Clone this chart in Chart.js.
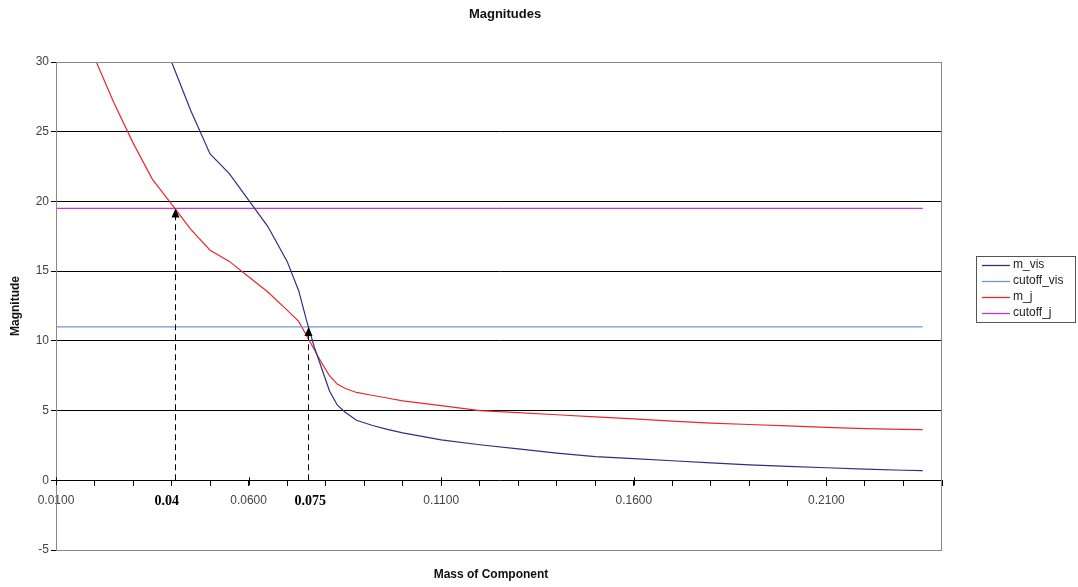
<!DOCTYPE html>
<html>
<head>
<meta charset="utf-8">
<script src="https://cdn.jsdelivr.net/npm/chart.js@4.4.0/dist/chart.umd.min.js"></script>
<style>
  body { margin: 0; background: #fff; }
  #wrap { width: 1078px; height: 587px; }
</style>
</head>
<body>
<div id="wrap"><canvas id="chart" width="1078" height="587"></canvas></div>
<script>
// data
const masses = [0.010, 0.015, 0.020, 0.025, 0.030, 0.035, 0.040, 0.045, 0.050, 0.055, 0.060, 0.065,
  0.070, 0.073, 0.075, 0.077, 0.079, 0.081, 0.083, 0.085, 0.088, 0.092, 0.096, 0.100, 0.110,
  0.120, 0.130, 0.140, 0.150, 0.160, 0.170, 0.180, 0.190, 0.200, 0.210, 0.220, 0.230, 0.235];
const mVis = [50, 47, 43, 40, 36.8, 33.4, 30, 26.5, 23.4, 22.0, 20.1, 18.2,
  15.7, 13.6, 11.5, 9.6, 8.0, 6.4, 5.4, 4.9, 4.3, 3.95, 3.65, 3.4, 2.9,
  2.55, 2.25, 1.95, 1.7, 1.55, 1.4, 1.25, 1.1, 1.0, 0.9, 0.8, 0.72, 0.69];
const mJ = [37, 33.5, 30.3, 27.1, 24.2, 21.6, 19.8, 18.0, 16.5, 15.7, 14.6, 13.5,
  12.2, 11.4, 10.4, 9.4, 8.4, 7.5, 6.9, 6.6, 6.3, 6.1, 5.9, 5.7, 5.35,
  5.0, 4.85, 4.7, 4.55, 4.4, 4.25, 4.1, 4.0, 3.9, 3.8, 3.7, 3.65, 3.64];
const cutoffVis = 11;
const cutoffJ = 19.5;
const seriesNames = ["m_vis", "cutoff_vis", "m_j", "cutoff_j"];
const seriesColors = ["#2f2f80", "#6f96d8", "#e8282f", "#cc33cc"];
const yTicks = [-5, 0, 5, 10, 15, 20, 25, 30];
const xLabelTicks = [0.01, 0.06, 0.11, 0.16, 0.21];
// the two dashed pointers
const markerMass = [0.0408, 0.0755];
const markerLevel = [19.5, 11];
const markerText = ["0.04", "0.075"];

const FONT = "'Liberation Sans', Arial, sans-serif";

const pts = (ys) => masses.map((m, i) => ({ x: m, y: ys[i] }));
const flat = (v) => [{ x: masses[0], y: v }, { x: masses[masses.length - 1], y: v }];

const extras = {
  id: "extras",
  afterDatasetsDraw(chart) {
    const { ctx, chartArea: a, scales: { x, y } } = chart;
    ctx.save();
    // plot border
    ctx.strokeStyle = "#888";
    ctx.lineWidth = 1;
    ctx.strokeRect(a.left + 0.5, a.top + 0.5, a.right - a.left - 1, a.bottom - a.top);
    // major ticks poke above the axis
    const y0 = y.getPixelForValue(0);
    ctx.strokeStyle = "#000";
    xLabelTicks.forEach((t) => {
      const px = Math.round(x.getPixelForValue(t)) + 0.5;
      ctx.beginPath();
      ctx.moveTo(px, y0 - 3);
      ctx.lineTo(px, y0 + 5);
      ctx.stroke();
    });
    // dashed pointers
    for (let i = 0; i < markerMass.length; i++) {
      const px = Math.round(x.getPixelForValue(markerMass[i])) + 0.5;
      const y1 = y.getPixelForValue(markerLevel[i]);
      ctx.strokeStyle = "#000";
      ctx.setLineDash([6, 4]);
      ctx.beginPath();
      ctx.moveTo(px, y0);
      ctx.lineTo(px, y1 + 7);
      ctx.stroke();
      ctx.setLineDash([]);
      ctx.fillStyle = "#000";
      ctx.beginPath();
      ctx.moveTo(px, y1);
      ctx.lineTo(px - 4, y1 + 9);
      ctx.lineTo(px + 4, y1 + 9);
      ctx.closePath();
      ctx.fill();
      ctx.font = "bold 14px 'Liberation Serif', serif";
      ctx.textAlign = "center";
      ctx.textBaseline = "middle";
      ctx.fillText(markerText[i], x.getPixelForValue(markerMass[i]) - 8 + i * 10, 501);
    }
    ctx.restore();
  },
  afterDraw(chart) {
    const { ctx } = chart;
    ctx.save();
    ctx.fillStyle = "#111";
    ctx.textAlign = "center";
    ctx.textBaseline = "middle";
    ctx.font = "bold 13px " + FONT;
    ctx.fillText("Magnitudes", 505, 14);
    ctx.font = "bold 12px " + FONT;
    ctx.fillText("Mass of Component", 491, 575);
    ctx.translate(16, 306);
    ctx.rotate(-Math.PI / 2);
    ctx.fillText("Magnitude", 0, 0);
    ctx.restore();

    // legend
    ctx.save();
    ctx.strokeStyle = "#555";
    ctx.lineWidth = 1;
    ctx.strokeRect(976.5, 256.5, 99, 66);
    ctx.font = "12px " + FONT;
    ctx.textBaseline = "middle";
    ctx.textAlign = "left";
    chart.data.datasets.forEach((ds, i) => {
      const ly = 265 + i * 16;
      ctx.strokeStyle = ds.borderColor;
      ctx.lineWidth = 1.3;
      ctx.beginPath();
      ctx.moveTo(982, ly + 0.5);
      ctx.lineTo(1010, ly + 0.5);
      ctx.stroke();
      ctx.fillStyle = "#222";
      ctx.fillText(ds.label, 1013, ly);
    });
    ctx.restore();
  }
};

const lineDs = (i, data) => ({
  label: seriesNames[i],
  data,
  borderColor: seriesColors[i],
  backgroundColor: seriesColors[i],
  borderWidth: 1.2,
  pointRadius: 0,
  tension: 0,
  fill: false
});

new Chart(document.getElementById("chart"), {
  type: "line",
  data: {
    datasets: [
      lineDs(0, pts(mVis)),
      lineDs(1, flat(cutoffVis)),
      lineDs(2, pts(mJ)),
      lineDs(3, flat(cutoffJ))
    ]
  },
  options: {
    responsive: false,
    animation: false,
    layout: { padding: { left: 0, top: 62, right: 136, bottom: 37 } },
    plugins: {
      legend: { display: false },
      title: { display: false },
      tooltip: { enabled: false }
    },
    scales: {
      x: {
        type: "linear",
        position: { y: 0 },
        min: 0.01,
        max: 0.24,
        afterFit: (s) => { s.height = 0; },
        grid: { drawOnChartArea: false, drawTicks: true, tickLength: 5, tickColor: "#000" },
        border: { display: true, color: "#000", width: 1 },
        ticks: {
          stepSize: 0.01,
          includeBounds: false,
          autoSkip: false,
          maxRotation: 0,
          padding: 8,
          color: "#444",
          font: { family: FONT, size: 12 },
          callback: (v) => xLabelTicks.some((t) => Math.abs(t - v) < 1e-6) ? v.toFixed(4) : ""
        }
      },
      y: {
        min: -5,
        max: 30,
        afterFit: (s) => { s.width = 56; },
        afterBuildTicks: (s) => { s.ticks = yTicks.map((v) => ({ value: v })); },
        grid: {
          color: (c) => (c.tick && (c.tick.value === 30 || c.tick.value === -5)) ? "#888"
            : (c.tick && c.tick.value === 0 ? "rgba(0,0,0,0)" : "#000"),
          tickColor: "#000",
          tickLength: 5
        },
        border: { display: true, color: "#000", width: 1 },
        ticks: {
          padding: 2,
          color: "#444",
          font: { family: FONT, size: 12 }
        }
      }
    }
  },
  plugins: [extras]
});
</script>
</body>
</html>
